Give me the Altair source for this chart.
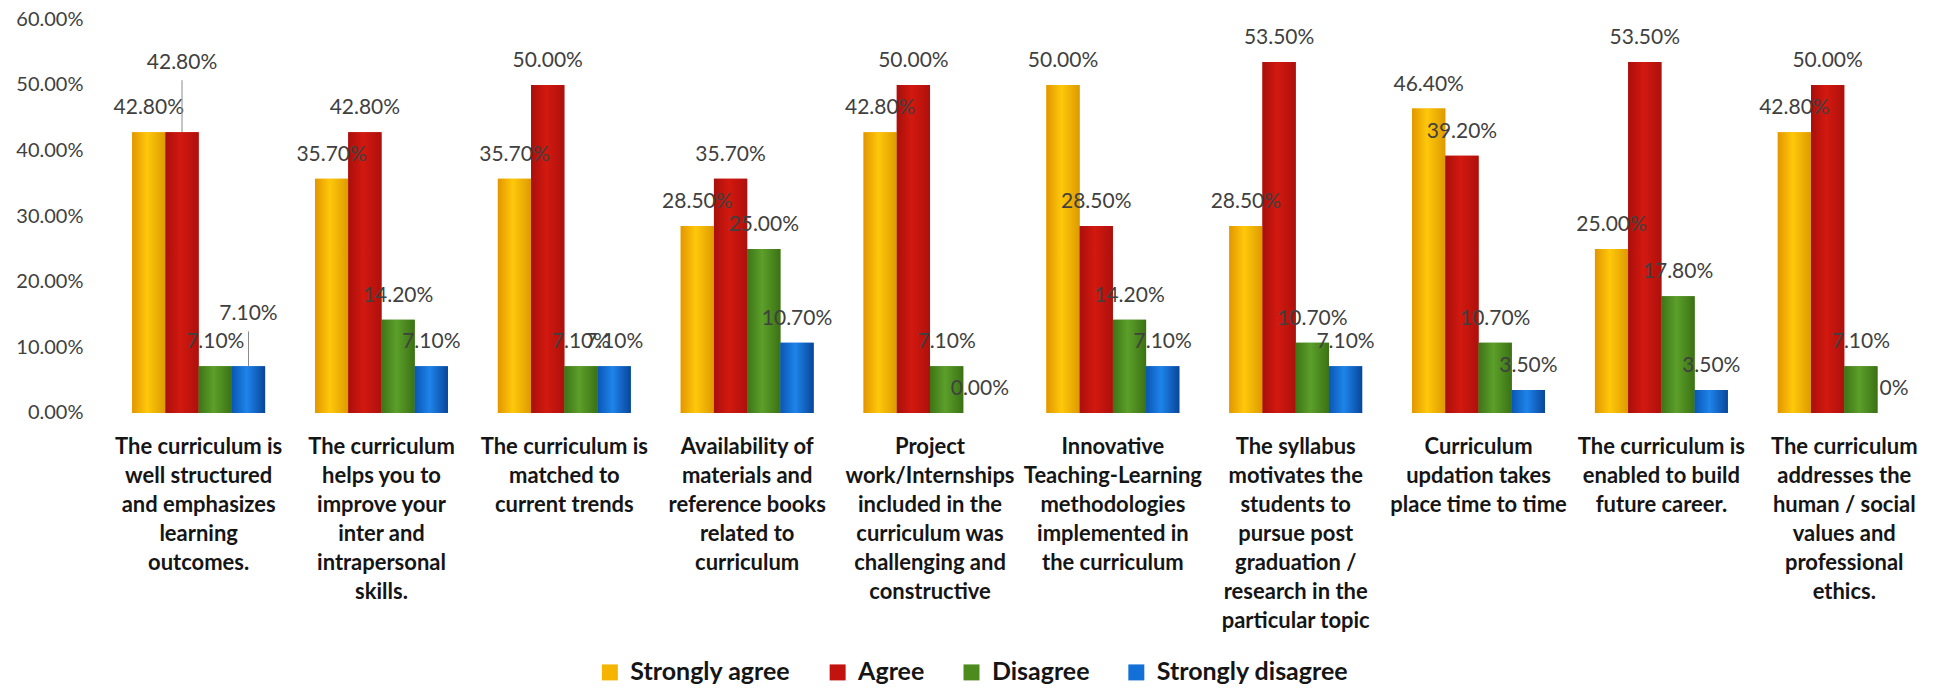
import altair as alt
import pandas as pd

categories = [
    "The curriculum is|well structured|and emphasizes|learning|outcomes.",
    "The curriculum|helps you to|improve your|inter and|intrapersonal|skills.",
    "The curriculum is|matched to|current trends",
    "Availability of|materials and|reference books|related to|curriculum",
    "Project|work/Internships|included in the|curriculum was|challenging and|constructive",
    "Innovative|Teaching-Learning|methodologies|implemented in|the curriculum",
    "The syllabus|motivates the|students to|pursue post|graduation /|research in the|particular topic",
    "Curriculum|updation takes|place time to time",
    "The curriculum is|enabled to build|future career.",
    "The curriculum|addresses the|human / social|values and|professional|ethics.",
]
series = ["Strongly agree", "Agree", "Disagree", "Strongly disagree"]
colors = ["#F4B400", "#C3130F", "#4D8B1F", "#1270D6"]
# bar shading: left edge, centre, right edge
shades = [
    ["#E39600", "#FFC80A", "#DD9A00"],
    ["#A90F0C", "#D2190F", "#AE100C"],
    ["#3D7516", "#5C9F2A", "#3B7214"],
    ["#0A56B4", "#1E84EA", "#08469A"],
]

strongly_agree = [42.8, 35.7, 35.7, 28.5, 42.8, 50.0, 28.5, 46.4, 25.0, 42.8]
agree = [42.8, 42.8, 50.0, 35.7, 50.0, 28.5, 53.5, 39.2, 53.5, 50.0]
disagree = [7.1, 14.2, 7.1, 25.0, 7.1, 14.2, 10.7, 10.7, 17.8, 7.1]
strongly_disagree = [7.1, 7.1, 7.1, 10.7, 0.0, 7.1, 7.1, 3.5, 3.5, 0.0]
strongly_disagree_labels = ["7.10%", "7.10%", "7.10%", "10.70%", "0.00%", "7.10%", "7.10%", "3.50%", "3.50%", "0%"]

# labels that the original moved up, with a leader line (extra lift in px)
lifted_labels = [(0, "Agree", 45), (0, "Strongly disagree", 28)]

rows = []
for s, vals in zip(series, [strongly_agree, agree, disagree, strongly_disagree]):
    for i, (c, v) in enumerate(zip(categories, vals)):
        if s == "Strongly disagree":
            lab = strongly_disagree_labels[i]
        else:
            lab = f"{v:.2f}%"
        rows.append({"category": c, "series": s, "value": v / 100.0, "label": lab, "lifted": 0})
df = pd.DataFrame(rows)
for ci, s, _ in lifted_labels:
    df.loc[(df.category == categories[ci]) & (df.series == s), "lifted"] = 1

x = alt.X(
    "category:N",
    sort=categories,
    scale=alt.Scale(paddingInner=0.273, paddingOuter=0.1),
    axis=alt.Axis(
        title=None, labelAngle=0, domain=False, ticks=False,
        labelExpr="split(datum.label, '|')",
        labelPadding=24, labelFont="Lato", labelFontWeight="bold",
        labelFontSize=22, labelColor="#151515", labelLineHeight=29,
        labelLimit=400, labelOverlap=False, labelBound=False,
    ),
)
xo = alt.XOffset("series:N", sort=series, scale=alt.Scale(domain=series))
y = alt.Y(
    "value:Q",
    scale=alt.Scale(domain=[0, 0.6]),
    axis=alt.Axis(
        title=None, values=[0, 0.1, 0.2, 0.3, 0.4, 0.5, 0.6], format=".2%",
        domain=False, ticks=False, grid=False, labelFont="Lato",
        labelFontSize=20, labelColor="#404040", labelPadding=31,
    ),
)

bars = alt.Chart(df).mark_bar().encode(
    x=x, xOffset=xo, y=y,
    color=alt.Color(
        "series:N", sort=series,
        scale=alt.Scale(domain=series, range=colors),
        legend=alt.Legend(
            orient="none", legendX=484, legendY=641, direction="horizontal",
            title=None, symbolType="square", symbolSize=256,
            symbolStrokeWidth=0, labelFont="Lato", labelFontSize=25,
            labelFontWeight="bold", labelColor="#151515", columnPadding=34,
            labelOffset=8, labelLimit=400,
        ),
    ),
)

layers = [bars]
for s, sh in zip(series, shades):
    grad = alt.Gradient(
        gradient="linear", x1=0, x2=1, y1=0, y2=0,
        stops=[
            alt.GradientStop(color=sh[0], offset=0),
            alt.GradientStop(color=sh[1], offset=0.45),
            alt.GradientStop(color=sh[2], offset=1),
        ],
    )
    layers.append(
        alt.Chart(df).transform_filter(alt.datum.series == s)
        .mark_bar(color=grad).encode(x=x, xOffset=xo, y=y)
    )

text_style = dict(baseline="middle", align="center", font="Lato", fontSize=21, color="#404040")
layers.append(
    alt.Chart(df).transform_filter(alt.datum.lifted == 0)
    .mark_text(dy=-24, **text_style)
    .encode(x=x, xOffset=xo, y=y, text="label:N")
)
for ci, s, lift in lifted_labels:
    sel = (alt.datum.category == categories[ci]) & (alt.datum.series == s)
    layers.append(
        alt.Chart(df).transform_filter(sel)
        .transform_calculate(top=f"datum.value + {(lift + 7) * 0.6 / 394}")
        .mark_rule(color="#8a8a8a", strokeWidth=1)
        .encode(x=x, xOffset=xo, y=y, y2="top:Q")
    )
    layers.append(
        alt.Chart(df).transform_filter(sel)
        .mark_text(dy=-24 - lift, **text_style)
        .encode(x=x, xOffset=xo, y=y, text="label:N")
    )

chart = alt.layer(*layers).properties(
    width=1817, height=394,
    autosize=alt.AutoSizeParams(type="none"),
    padding={"left": 106, "top": 11, "right": 0, "bottom": 276},
).configure_view(stroke=None)

chart.save("out.html", embed_options={"renderer": "svg", "actions": False})
